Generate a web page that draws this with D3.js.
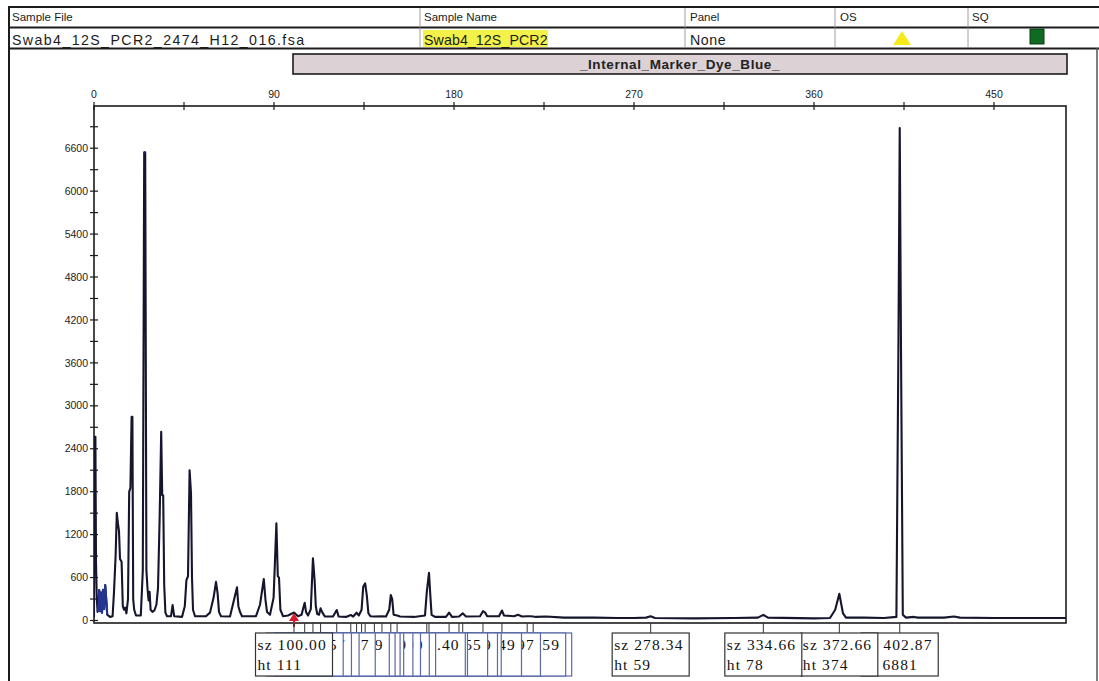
<!DOCTYPE html>
<html>
<head>
<meta charset="utf-8">
<script src="https://cdn.jsdelivr.net/npm/d3@7"></script>
<style>
  html, body { margin: 0; padding: 0; background: #fff; }
  svg { display: block; }
</style>
</head>
<body>
<svg id="chart" width="1099" height="681"></svg>
<script>
// ---- header table ----
const headerLabels = ["Sample File", "Sample Name", "Panel", "OS", "SQ"];
const rowValues = ["Swab4_12S_PCR2_2474_H12_016.fsa", "Swab4_12S_PCR2", "None"];
const dyeName = "_Internal_Marker_Dye_Blue_";

// ---- axes ----
const xMajorTicks = [0, 90, 180, 270, 360, 450];
const xMinorTicks = [45, 135, 225, 315, 405];
const yMajorTicks = [0, 600, 1200, 1800, 2400, 3000, 3600, 4200, 4800, 5400, 6000, 6600];
const yMinorTicks = [300, 900, 1500, 2100, 2700, 3300, 3900, 4500, 5100, 5700, 6300, 6900];

// ---- electropherogram trace: fragment size (bp) and signal (RFU) ----
const traceSize = [0,0.3,0.7,1.0,1.4,1.8,2.2,2.6,3.0,3.5,4.0,4.5,5.0,5.6,6.1,6.6,8,9.3,
  10.0,10.8,11.4,12.0,12.5,13.0,13.8,14.4,15.0,15.6,16.2,
  17.0,17.6,18.2,18.8,19.2,19.6,20.1,21.0,23.4,
  24.4,25.1,25.6,26.2,26.8,27.3,27.8,28.3,29.2,30.2,31.2,32.0,32.8,33.6,34.1,34.6,35.1,35.7,36.5,38.5,39.3,40.1,44,45.4,46.2,47.0,47.8,48.5,49.0,49.5,50.5,
  56,58,59.8,61.0,61.8,62.5,63.5,68,70.2,71.5,72.2,73.0,74,81,83,84.9,85.7,86.5,88,89.8,91.2,91.9,92.5,93.2,94.5,97,100,102,
  103.8,104.6,105.35,106.0,107,108.4,109.47,110.3,110.9,111.6,112.5,113.29,114.2,115.5,119.5,121.37,122.3,126,128.39,129.6,131.29,132.4,133.79,134.6,135.59,136.4,137.2,138.2,140.19,143.99,146,147.6,148.4,149.1,149.8,151.55,153,160,165.5,166.40,167.49,168.2,168.8,170.5,176,177.55,179,182.49,184.36,186,193,194.49,195.6,196.6,202.5,203.97,205,210,212,214,216.59,218,219.59,221,226,235,250,262,270,276,278.34,280.5,300,320,332,334.66,337,360,368,370.6,372.66,374.5,376,385,395,401.2,402.2,402.87,403.5,404.4,406,410,412,425,430,433,450,486];
const traceValue = [50,2566,2566,820,300,120,180,425,130,390,110,430,160,495,300,80,50,60,
  400,900,1505,1350,1250,860,820,200,150,180,100,
  300,1800,1850,2845,2845,300,150,70,70,
  700,6544,6544,700,430,280,400,150,120,140,220,450,1400,2636,1750,1750,500,110,60,60,215,60,50,200,560,620,2100,1780,600,150,60,
  60,110,320,540,380,120,60,55,310,463,200,120,60,60,220,580,300,120,80,320,1357,620,600,150,60,70,111,60,
  80,170,248,120,70,160,868,565,200,90,80,170,110,55,55,147,55,50,77,55,109,70,150,470,519,350,100,60,55,60,55,150,356,300,80,70,55,50,70,400,667,333,80,50,50,109,50,55,100,55,60,130,110,60,60,140,70,60,80,55,60,60,55,50,55,40,40,35,35,40,59,35,30,35,40,78,40,30,35,150,374,100,40,40,35,50,3800,6881,3800,80,40,50,40,40,55,40,35,35];

// size ranges of the trace shown in the brighter blue
const blueRanges = [[1.8, 6.8], [24.6, 26.0]];

// ---- called peaks (size label and height label) ----
const peakSize = [100.00,105.35,109.47,113.29,121.37,128.39,131.29,133.79,135.59,140.19,143.99,148.40,151.55,166.40,167.49,177.55,182.49,184.36,194.49,203.97,216.59,219.59,278.34,334.66,372.66,402.87];
const peakHeight = [111,248,868,170,147,77,109,150,519,55,60,356,70,400,667,109,55,100,130,140,60,55,59,78,374,6881];

const svg = d3.select("#chart");
const W = 1099, H = 681;
const plot = { left: 94, right: 1066, top: 106, bottom: 623 };

const x = d3.scaleLinear().domain([0, 486]).range([plot.left, plot.right]);
const y = d3.scaleLinear().domain([-35, 7190]).range([plot.bottom, plot.top]);

const sans = "'Liberation Sans', Arial, sans-serif";
const serif = "'Liberation Serif', 'Times New Roman', serif";
const ink = "#1c1c1c";

// ---- outer frame and header table ----
const frame = svg.append("g").attr("stroke", ink).attr("fill", "none");
frame.append("line").attr("x1", 8).attr("x2", 1099).attr("y1", 7).attr("y2", 7).attr("stroke-width", 2);
frame.append("line").attr("x1", 8).attr("x2", 1099).attr("y1", 27.5).attr("y2", 27.5).attr("stroke-width", 2);
frame.append("line").attr("x1", 8).attr("x2", 1099).attr("y1", 48.5).attr("y2", 48.5).attr("stroke-width", 2.2);
frame.append("line").attr("x1", 9).attr("x2", 9).attr("y1", 7).attr("y2", H).attr("stroke-width", 2);
frame.append("line").attr("x1", 1097).attr("x2", 1097).attr("y1", 48).attr("y2", H).attr("stroke-width", 1.5).attr("stroke", "#555");

const colX = [12, 424, 690, 840, 972];
const sepX = [420, 685, 835, 968];
sepX.forEach(sx => {
  frame.append("line").attr("x1", sx).attr("x2", sx).attr("y1", 8).attr("y2", 48)
    .attr("stroke", "#888").attr("stroke-width", 0.8);
});

// highlighted sample name
svg.append("rect").attr("x", 423).attr("y", 30).attr("width", 125).attr("height", 17).attr("fill", "#f2f24a");

svg.append("g").selectAll("text").data(headerLabels).join("text")
  .attr("x", (d, i) => colX[i]).attr("y", 21)
  .attr("font-family", sans).attr("font-size", 11.5).attr("fill", ink)
  .text(d => d);

const rowSpacing = [1.4, 0.1, 0.6];
svg.append("g").selectAll("text").data(rowValues).join("text")
  .attr("x", (d, i) => colX[i]).attr("y", 44.5)
  .attr("font-family", sans).attr("font-size", 14.2).attr("fill", ink)
  .attr("letter-spacing", (d, i) => rowSpacing[i])
  .text(d => d);

// OS indicator (yellow triangle) and SQ indicator (green square)
svg.append("path").attr("d", "M902,31 L911,45 L893,45 Z").attr("fill", "#f4ea1a");
svg.append("rect").attr("x", 1030).attr("y", 29).attr("width", 14).attr("height", 15)
  .attr("fill", "#0f6a22").attr("stroke", "#0a3d14").attr("stroke-width", 1);

// dye bar
svg.append("rect").attr("x", 293).attr("y", 54).attr("width", 774).attr("height", 20)
  .attr("fill", "#dcd1d5").attr("stroke", ink).attr("stroke-width", 1.6);
svg.append("text").attr("x", 680).attr("y", 69).attr("text-anchor", "middle")
  .attr("font-family", sans).attr("font-size", 13.5).attr("font-weight", "bold").attr("fill", "#222")
  .attr("letter-spacing", 0.6)
  .text(dyeName);

// ---- plot frame and axes ----
const axisG = svg.append("g").attr("stroke", ink).attr("fill", "none");
axisG.append("rect").attr("x", plot.left).attr("y", plot.top)
  .attr("width", plot.right - plot.left).attr("height", plot.bottom - plot.top)
  .attr("stroke-width", 1.6);

// x ticks along the top
xMajorTicks.concat(xMinorTicks).forEach(t => {
  axisG.append("line").attr("x1", x(t)).attr("x2", x(t)).attr("y1", plot.top - 4).attr("y2", plot.top + 4).attr("stroke-width", 1.2);
});
svg.append("g").selectAll("text").data(xMajorTicks).join("text")
  .attr("x", d => x(d)).attr("y", 98).attr("text-anchor", "middle")
  .attr("font-family", sans).attr("font-size", 10.5).attr("fill", ink)
  .text(d => d);

// y ticks along the left
yMajorTicks.concat(yMinorTicks).forEach(t => {
  axisG.append("line").attr("x1", plot.left - 4).attr("x2", plot.left + 4).attr("y1", y(t)).attr("y2", y(t)).attr("stroke-width", 1.2);
});
svg.append("g").selectAll("text").data(yMajorTicks).join("text")
  .attr("x", 88).attr("y", d => y(d)).attr("dy", "0.35em").attr("text-anchor", "end")
  .attr("font-family", sans).attr("font-size", 10.5).attr("fill", ink)
  .text(d => d);

// ---- trace ----
svg.append("clipPath").attr("id", "plotClip").append("rect")
  .attr("x", plot.left).attr("y", plot.top).attr("width", plot.right - plot.left).attr("height", plot.bottom - plot.top);

const tracePoints = traceSize.map((s, i) => [s, traceValue[i]]);
const line = d3.line().x(d => x(d[0])).y(d => y(d[1]));
svg.append("path").datum(tracePoints)
  .attr("clip-path", "url(#plotClip)")
  .attr("d", line)
  .attr("fill", "none").attr("stroke", "#15152e").attr("stroke-width", 2.1)
  .attr("stroke-linejoin", "round");

blueRanges.forEach(([a, b]) => {
  svg.append("path").datum(tracePoints.filter(p => p[0] >= a && p[0] <= b))
    .attr("clip-path", "url(#plotClip)")
    .attr("d", line)
    .attr("fill", "none").attr("stroke", "#24358f").attr("stroke-width", 2.1)
    .attr("stroke-linejoin", "round");
});

// marker on the first called size-standard peak
const px0 = x(peakSize[0]);
svg.append("path").attr("d", `M${px0},${613} L${px0 + 5},${621} L${px0 - 5},${621} Z`).attr("fill", "#d61a2a");
svg.append("line").attr("x1", px0).attr("x2", px0).attr("y1", 619).attr("y2", 627).attr("stroke", "#d61a2a").attr("stroke-width", 2);

// ---- peak labels ----
const boxW = 77, boxTop = 633, boxH = 43;
const labels = svg.append("g");
peakSize.forEach((s, i) => {
  labels.append("line").attr("x1", x(s)).attr("x2", x(s)).attr("y1", plot.bottom).attr("y2", boxTop)
    .attr("stroke", "#333").attr("stroke-width", 1);
});
// drawn right to left so that the leftmost label sits on top
d3.range(peakSize.length - 1, -1, -1).forEach(i => {
  const cx = x(peakSize[i]);
  const inCluster = i > 0 && i < 22;
  const g = labels.append("g").attr("transform", `translate(${cx - boxW / 2},${boxTop})`);
  g.append("rect").attr("width", boxW).attr("height", boxH)
    .attr("fill", "#fff").attr("stroke", inCluster ? "#5a6aa8" : "#333").attr("stroke-width", 1.2);
  g.append("text").attr("x", 2).attr("y", 17)
    .attr("font-family", serif).attr("font-size", 15.5).attr("letter-spacing", 1.1).attr("fill", "#111")
    .text("sz " + peakSize[i].toFixed(2));
  g.append("text").attr("x", 2).attr("y", 37)
    .attr("font-family", serif).attr("font-size", 15.5).attr("letter-spacing", 1.1).attr("fill", "#111")
    .text("ht " + peakHeight[i]);
});
</script>
</body>
</html>
